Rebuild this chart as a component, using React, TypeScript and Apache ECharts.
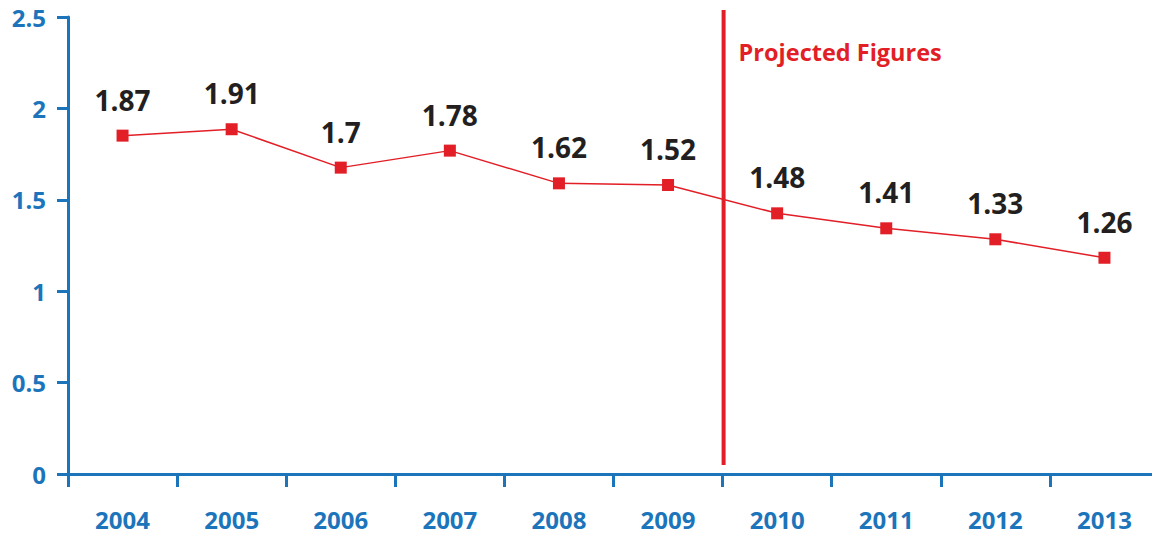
import React, { useEffect, useRef } from "react";
import * as echarts from "echarts";

const years = ["2004", "2005", "2006", "2007", "2008", "2009", "2010", "2011", "2012", "2013"];
const plotted = [1.851, 1.886, 1.676, 1.769, 1.59, 1.581, 1.426, 1.344, 1.284, 1.183];
const labels = ["1.87", "1.91", "1.7", "1.78", "1.62", "1.52", "1.48", "1.41", "1.33", "1.26"];
const projectedFrom = 6; // index of first projected year
const projectedText = "Projected Figures";

const BLUE = "#1c75bb";
const RED = "#e21e26";
const FONT = "'Open Sans', 'Noto Sans', sans-serif";

export default function App() {
  const ref = useRef<HTMLDivElement>(null);
  useEffect(() => {
    if (!ref.current) return;
    const chart = echarts.init(ref.current, null, { renderer: "svg" });
    chart.setOption({
      animation: false,
      grid: { left: 68, top: 17, bottom: 61, right: 11, containLabel: false },
      xAxis: {
        type: "category",
        data: years,
        boundaryGap: true,
        axisLine: { lineStyle: { color: BLUE, width: 3 } },
        axisTick: { show: true, length: 13, lineStyle: { color: BLUE, width: 3 }, alignWithLabel: false },
        axisLabel: {
          color: BLUE,
          fontSize: 24,
          lineHeight: 24,
          fontWeight: "bold",
          fontFamily: FONT,
          margin: 33,
        },
        splitLine: { show: false },
      },
      yAxis: {
        type: "value",
        min: 0,
        max: 2.5,
        interval: 0.5,
        axisLine: { show: true, lineStyle: { color: BLUE, width: 3 } },
        axisTick: { show: true, length: 11, lineStyle: { color: BLUE, width: 3 } },
        axisLabel: { color: BLUE, fontSize: 24, fontWeight: "bold", fontFamily: FONT, margin: 22 },
        splitLine: { show: false },
      },
      series: [
        {
          type: "line",
          data: plotted,
          symbol: "rect",
          symbolSize: 12,
          lineStyle: { color: RED, width: 1.5 },
          itemStyle: { color: RED },
          label: {
            show: true,
            position: "top",
            distance: 16,
            color: "#231f20",
            fontSize: 28,
            fontWeight: "bold",
            fontFamily: FONT,
            formatter: (p: any) => labels[p.dataIndex],
          },
          z: 3,
        },
      ],
    });
    const a = chart.convertToPixel({ xAxisIndex: 0 }, projectedFrom - 1) as number;
    const b = chart.convertToPixel({ xAxisIndex: 0 }, projectedFrom) as number;
    const x = (a + b) / 2 + 1;
    chart.setOption({
      graphic: [
        {
          type: "line",
          shape: { x1: x, y1: 10, x2: x, y2: 465 },
          style: { stroke: RED, lineWidth: 4 },
          z: 10,
        },
        {
          type: "text",
          x: x + 15,
          y: 52,
          style: {
            text: projectedText,
            fill: RED,
            font: `bold 23.5px ${FONT}`,
            textVerticalAlign: "middle",
            verticalAlign: "middle",
          },
          z: 10,
        },
      ],
    });
    return () => chart.dispose();
  }, []);
  return (
    <div
      style={{
        position: "absolute",
        left: 0,
        top: 0,
        width: 1152,
        height: 535,
        overflow: "hidden",
        background: "#fff",
      }}
    >
      <div ref={ref} style={{ width: 1170, height: 535 }} />
    </div>
  );
}
